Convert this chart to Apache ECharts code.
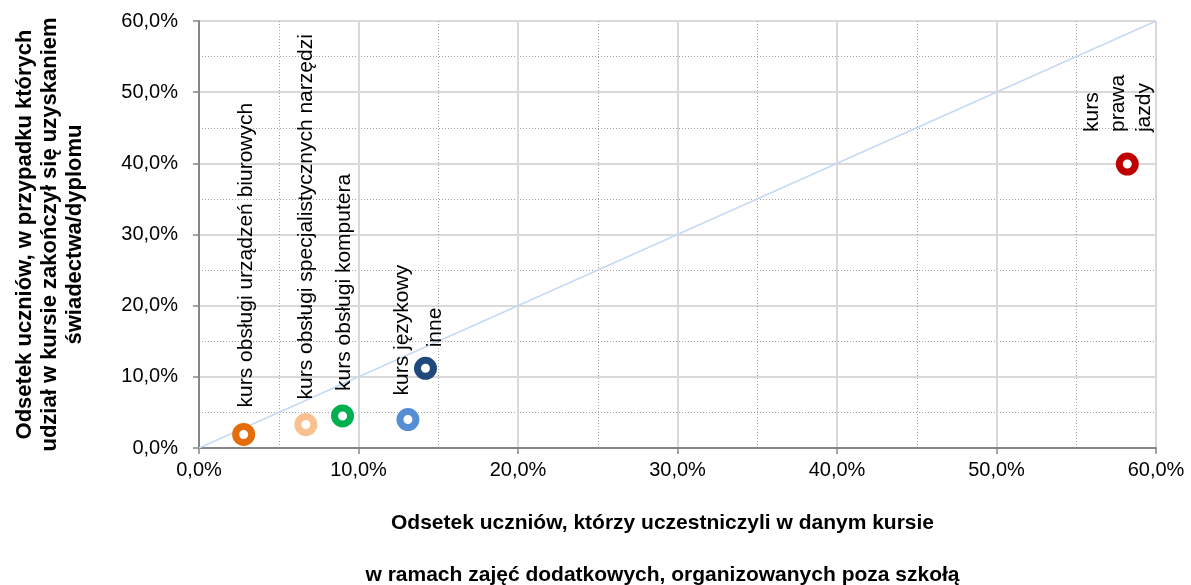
<!DOCTYPE html>
<html>
<head>
<meta charset="utf-8">
<script src="https://cdn.jsdelivr.net/npm/echarts@6/dist/echarts.min.js"></script>
<style>
  html, body { margin: 0; padding: 0; background: #fff; }
  #main { width: 1191px; height: 585px; }
</style>
</head>
<body>
<div id="main"></div>
<script>
// dane (w %)
var courses = [
  'kurs obsługi urządzeń biurowych',
  'kurs obsługi specjalistycznych narzędzi',
  'kurs obsługi komputera',
  'kurs językowy',
  'inne',
  'kurs\nprawa\njazdy'
]
var participated = [2.8, 6.7, 9.0, 13.1, 14.2, 58.2]
var certified = [1.9, 3.3, 4.5, 4.0, 11.2, 39.9]
var diagonalX = [0, 60]
var diagonalY = [0, 60]
var axisTicks = [0, 10, 20, 30, 40, 50, 60]

// kolory punktów
var colors = ['#e46c0a', '#fac090', '#00b050', '#558ed5', '#1f497d', '#c00000']
// przesunięcie etykiet [wzdłuż tekstu, w poprzek]
var labelShift = [[-0.5, 2.5], [-2.5, 0], [-2.5, 1.5], [-3.5, -6], [-6.5, 10], [4.5, -9]]

var fmt = function (v) {
  return v.toFixed(1).replace('.', ',') + '%'
}

var myChart = echarts.init(document.getElementById('main'))

var points = courses.map(function (name, i) {
  return {
    name: name,
    value: [participated[i], certified[i]],
    itemStyle: { borderColor: colors[i] },
    label: { offset: labelShift[i] }
  }
})

var axisCommon = {
  type: 'value',
  min: axisTicks[0],
  max: axisTicks[axisTicks.length - 1],
  interval: 10,
  axisLine: { show: true, lineStyle: { color: '#868686', width: 2 } },
  axisTick: { show: true, inside: false, length: 6, lineStyle: { color: '#868686', width: 1.5 } },
  splitLine: { show: true, lineStyle: { color: '#d9d9d9', width: 2 } },
  minorTick: { show: false, splitNumber: 2 },
  minorSplitLine: { show: true, lineStyle: { color: '#a0a0a0', width: 1, type: [1, 2] } },
  axisLabel: {
    formatter: fmt,
    color: '#000',
    fontFamily: 'Liberation Sans, Arial, sans-serif',
    fontSize: 20
  }
}

var option = {
  animation: false,
  backgroundColor: '#fff',
  grid: { left: 199, right: 35, top: 21, bottom: 137, containLabel: false, outerBoundsMode: 'none' },
  xAxis: Object.assign({}, axisCommon, {
    name: 'Odsetek uczniów, którzy uczestniczyli w danym kursie\nw ramach zajęć dodatkowych, organizowanych poza szkołą',
    nameLocation: 'middle',
    nameGap: 49,
    nameTextStyle: {
      color: '#000',
      fontWeight: 'bold',
      fontFamily: 'Liberation Sans, Arial, sans-serif',
      fontSize: 21,
      lineHeight: 52,
      padding: [0, 30, 0, 0]
    },
    axisLabel: Object.assign({}, axisCommon.axisLabel, { margin: 12 })
  }),
  yAxis: Object.assign({}, axisCommon, {
    name: 'Odsetek uczniów, w przypadku których\nudział w kursie zakończył się uzyskaniem\nświadectwa/dyplomu',
    nameLocation: 'middle',
    nameRotate: 90,
    nameGap: 112,
    nameTextStyle: {
      color: '#000',
      fontWeight: 'bold',
      fontFamily: 'Liberation Sans, Arial, sans-serif',
      fontSize: 22,
      lineHeight: 25
    },
    axisLabel: Object.assign({}, axisCommon.axisLabel, { margin: 21 })
  }),
  series: [
    {
      // przekątna y = x
      type: 'line',
      data: diagonalX.map(function (x, i) { return [x, diagonalY[i]] }),
      symbol: 'none',
      lineStyle: { color: '#c6d9f1', width: 1.5 },
      silent: true,
      z: 1
    },
    {
      type: 'scatter',
      data: points,
      symbol: 'circle',
      symbolSize: 16,
      itemStyle: { color: '#fff', borderWidth: 7, opacity: 1 },
      label: {
        show: true,
        position: 'top',
        distance: 16,
        rotate: 90,
        align: 'left',
        verticalAlign: 'middle',
        formatter: '{b}',
        color: '#000',
        fontFamily: 'Liberation Sans, Arial, sans-serif',
        fontSize: 21,
        lineHeight: 26
      },
      z: 3
    }
  ]
}

myChart.setOption(option)
</script>
</body>
</html>
